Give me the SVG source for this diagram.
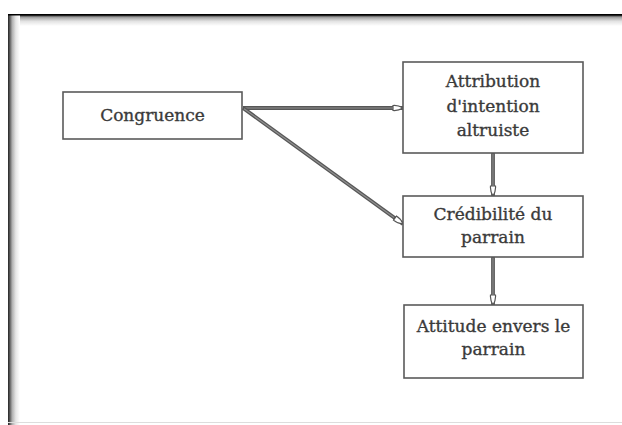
<svg xmlns="http://www.w3.org/2000/svg" width="622" height="425" viewBox="0 0 622 425">
<defs>
<linearGradient id="gTop" x1="0" y1="0" x2="0" y2="1">
<stop offset="0" stop-color="#000"/>
<stop offset="0.12" stop-color="#444"/>
<stop offset="0.3" stop-color="#a8a8a8"/>
<stop offset="0.6" stop-color="#e2e2e2"/>
<stop offset="1" stop-color="#fff"/>
</linearGradient>
<linearGradient id="gLeft" x1="0" y1="0" x2="1" y2="0">
<stop offset="0" stop-color="#222"/>
<stop offset="0.15" stop-color="#5a5a5a"/>
<stop offset="0.35" stop-color="#b0b0b0"/>
<stop offset="0.65" stop-color="#e6e6e6"/>
<stop offset="1" stop-color="#fff"/>
</linearGradient>
<marker id="head" viewBox="0 0 12 8" refX="11" refY="4" markerWidth="12" markerHeight="8" markerUnits="userSpaceOnUse" orient="auto">
<path d="M1,1.5 Q6,1 11,4 Q6,7 1,6.5 Z" fill="#fff" stroke="#555" stroke-width="1.2"/>
</marker>
<style>
.box{fill:#fff;stroke:#5a5a5a;stroke-width:1.6}
.lbl{font-family:"DejaVu Serif","Liberation Serif",serif;font-size:17px;fill:#3a3a3a;stroke:#3a3a3a;stroke-width:0.35;text-anchor:middle}
.edge{fill:none;stroke:#575757;stroke-width:3.8}
.edgein{fill:none;stroke:#909090;stroke-width:1.1}
</style>
</defs>
<rect x="0" y="0" width="622" height="425" fill="#fff"/>
<g id="frame">
<rect x="8" y="14" width="614" height="12" fill="url(#gTop)"/>
<rect x="8" y="14" width="12" height="411" fill="url(#gLeft)"/>
<rect x="20" y="26" width="602" height="399" fill="#fff"/>
<rect x="8" y="14" width="614" height="1.5" fill="#000"/>
<rect x="8" y="422" width="614" height="1" fill="#ddd"/>
</g>
<g id="connectors">
<g id="e1">
<line class="edge" x1="243" y1="108" x2="403" y2="108" marker-end="url(#head)"/>
<line class="edgein" x1="244" y1="108" x2="393" y2="108"/>
</g>
<g id="e2">
<line class="edge" x1="243" y1="108" x2="403" y2="224" marker-end="url(#head)"/>
<line class="edgein" x1="244" y1="108.7" x2="394" y2="217.5"/>
</g>
<g id="e3">
<line class="edge" x1="493" y1="153" x2="493" y2="196" marker-end="url(#head)"/>
<line class="edgein" x1="493" y1="154" x2="493" y2="186"/>
</g>
<g id="e4">
<line class="edge" x1="493" y1="257" x2="493" y2="305" marker-end="url(#head)"/>
<line class="edgein" x1="493" y1="258" x2="493" y2="295"/>
</g>
</g>
<g id="congruence">
<rect class="box" x="63" y="92" width="179" height="47"/>
<text class="lbl" x="152.5" y="121">Congruence</text>
</g>
<g id="attribution">
<rect class="box" x="403" y="62" width="180" height="91"/>
<text class="lbl" x="493" y="87">Attribution</text>
<text class="lbl" x="493" y="112">d'intention</text>
<text class="lbl" x="493" y="136">altruiste</text>
</g>
<g id="credibilite">
<rect class="box" x="403" y="196" width="180" height="61"/>
<text class="lbl" x="493" y="220">Crédibilité du</text>
<text class="lbl" x="493" y="243">parrain</text>
</g>
<g id="attitude">
<rect class="box" x="404" y="305" width="179" height="73"/>
<text class="lbl" x="493.5" y="332">Attitude envers le</text>
<text class="lbl" x="493.5" y="355">parrain</text>
</g>
</svg>
